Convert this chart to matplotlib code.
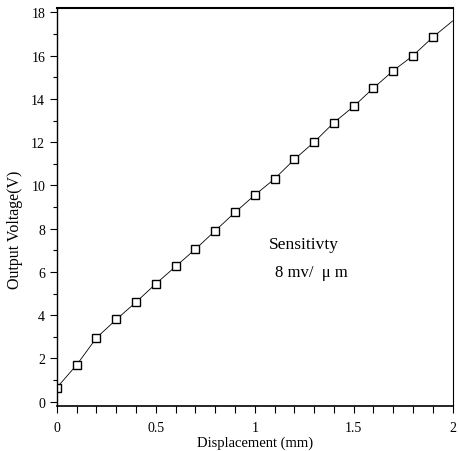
import numpy as np
import matplotlib
matplotlib.use("Agg")
import matplotlib.pyplot as plt

# displacement (mm) and measured output voltage (V)
disp = [0.0, 0.1, 0.2, 0.3, 0.4, 0.5, 0.6, 0.7, 0.8, 0.9,
        1.0, 1.1, 1.2, 1.3, 1.4, 1.5, 1.6, 1.7, 1.8, 1.9]
volts = [0.65, 1.7, 2.95, 3.8, 4.6, 5.45, 6.25, 7.05, 7.9, 8.75,
         9.55, 10.3, 11.2, 12.0, 12.9, 13.65, 14.5, 15.3, 16.0, 16.85]
# line end beyond last point
line_end_x = 2.0
line_end_y = 17.6

x_ticks = [0, 0.5, 1, 1.5, 2]
x_tick_labels = ["0", "0.5", "1", "1.5", "2"]
y_ticks = [0, 2, 4, 6, 8, 10, 12, 14, 16, 18]

plt.rcParams['font.family'] = ['Liberation Serif', 'DejaVu Serif']

fig = plt.figure(figsize=(4.59, 4.52), dpi=100)
ax = fig.add_axes([0.124, 0.0996, 0.862, 0.8804])

ax.plot(disp + [line_end_x], volts + [line_end_y], color="black", lw=0.6)
ax.plot(disp, volts, linestyle="none", marker="s", markersize=5.5,
        markerfacecolor="white", markeredgecolor="black", markeredgewidth=1.0)

ax.set_xlim(0, 2.0)
ax.set_ylim(-0.2, 18.2)

ax.set_xticks(x_ticks)
ax.set_xticklabels(x_tick_labels)
ax.set_xticks(np.arange(0, 2.01, 0.1), minor=True)
ax.set_yticks(y_ticks)
ax.set_yticks(np.arange(0, 18.1, 1), minor=True)

ax.tick_params(axis="both", which="major", direction="out", length=5, width=0.8,
               labelsize=10, colors="black")
ax.tick_params(axis="x", which="minor", direction="out", length=5, width=0.8)
ax.tick_params(axis="y", which="minor", direction="out", length=3, width=0.8)
ax.tick_params(axis="x", pad=6)

ax.spines["top"].set_linewidth(1.5)
ax.spines["left"].set_linewidth(1.0)
ax.spines["bottom"].set_linewidth(1.2)
ax.spines["right"].set_linewidth(0.8)

ax.set_xlabel("Displacement (mm)", fontsize=10.5, labelpad=1)
ax.set_ylabel("Output Voltage(V)", fontsize=11.5)
ax.yaxis.set_label_coords(-0.085, 0.445)

ax.text(1.07, 7.1, "Sensitivty", fontsize=12.5)
ax.text(1.10, 5.8, "8 mv/  \u03bc m", fontsize=12)

fig.savefig("out.png", dpi=100)
